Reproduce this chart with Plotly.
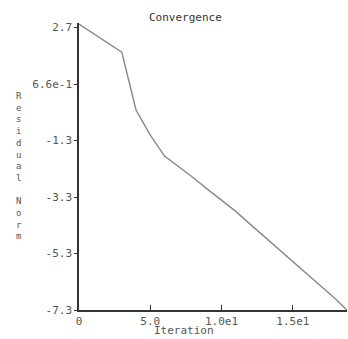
import plotly.graph_objects as go

iterations = list(range(0, 20))
residual_norm = [2.78, 2.45, 2.12, 1.79, -0.26, -1.15, -1.89, -2.26, -2.65, -3.06,
                 -3.45, -3.85, -4.30, -4.74, -5.18, -5.62, -6.07, -6.51, -6.95, -7.45]

x_tickvals = [0, 5, 10, 15]
x_ticktext = ["0", "5.0", "1.0e1", "1.5e1"]
y_tickvals = [2.66, 0.66, -1.34, -3.34, -5.34, -7.34]
y_ticktext = ["2.7", "6.6e-1", "-1.3", "-3.3", "-5.3", "-7.3"]

FONT = "DejaVu Sans Mono"

fig = go.Figure()
fig.add_trace(go.Scatter(x=iterations, y=residual_norm, mode="lines",
                         line=dict(color="#8c8c8c", width=1.5), showlegend=False))

fig.update_layout(
    width=348, height=339,
    margin=dict(l=79, r=1, t=23, b=29),
    paper_bgcolor="white", plot_bgcolor="white",
    font=dict(family=FONT, size=11, color="#444"),
    xaxis=dict(range=[0, 18.8], tickvals=x_tickvals, ticktext=x_ticktext,
               showgrid=False, zeroline=False, showline=True, linecolor="#333",
               linewidth=1.5, ticks="inside", ticklen=5, tickcolor="#333",
               tickfont=dict(family=FONT, size=11, color="#555")),
    yaxis=dict(range=[-7.34, 2.82], tickvals=y_tickvals, ticktext=y_ticktext,
               showgrid=False, zeroline=False, showline=True, linecolor="#333",
               linewidth=1.5, ticks="outside", ticklen=3, tickcolor="#333",
               tickfont=dict(family=FONT, size=11, color="#555")),
    annotations=[
        dict(text="Convergence", xref="paper", yref="paper", x=0.396, y=1.0,
             xanchor="center", yanchor="middle", yshift=6, showarrow=False,
             font=dict(family=FONT, size=11, color="#333")),
        dict(text="Iteration", xref="paper", yref="paper", x=0.392, y=-0.073,
             xanchor="center", yanchor="middle", showarrow=False,
             font=dict(family=FONT, size=11, color="#555")),
        dict(text="<br>".join(list("Residual")) + "<br><br>" + "<br>".join(list("Norm")),
             xref="paper", yref="paper", x=-0.224, y=0.502,
             xanchor="center", yanchor="middle", showarrow=False,
             font=dict(family=FONT, size=9, color="#555555")),
    ],
)

fig.write_html("out.html")
